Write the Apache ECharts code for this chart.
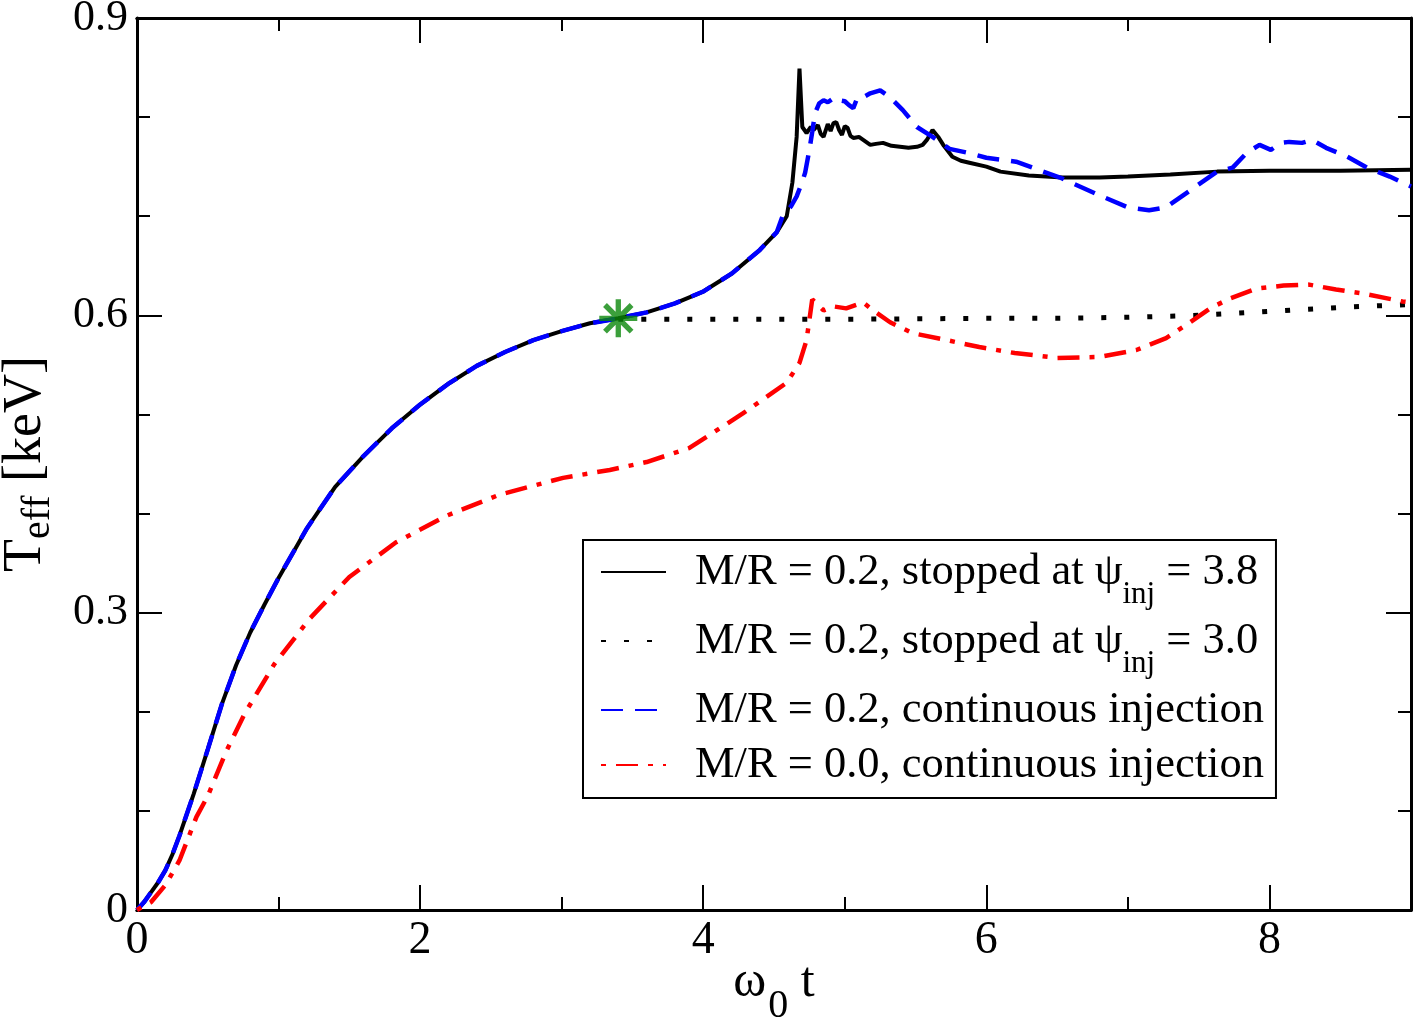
<!DOCTYPE html>
<html>
<head>
<meta charset="utf-8">
<script src="https://cdn.jsdelivr.net/npm/echarts@6/dist/echarts.min.js"></script>
<style>
html,body{margin:0;padding:0;background:#fff}
#main{width:1419px;height:1021px}
</style>
</head>
<body>
<div id="main"></div>
<script>
// rise shared by both M/R = 0.2 runs
var tCommon = [0, 0.05, 0.1, 0.15, 0.2, 0.25, 0.3, 0.4, 0.5, 0.6, 0.7, 0.8, 0.9, 1.0, 1.1, 1.2, 1.4, 1.6, 1.8, 2.0, 2.2, 2.4, 2.6, 2.8, 3.0, 3.2, 3.4, 3.6, 3.8, 4.0, 4.2, 4.4, 4.52];
var vCommon = [0, 0.008, 0.018, 0.028, 0.04, 0.056, 0.075, 0.117, 0.162, 0.208, 0.247, 0.28, 0.308, 0.335, 0.36, 0.385, 0.427, 0.458, 0.486, 0.51, 0.531, 0.549, 0.563, 0.575, 0.584, 0.592, 0.597, 0.603, 0.612, 0.624, 0.642, 0.666, 0.684];

// stopped at psi_inj = 3.8 (after the shared part)
var tStop38 = [4.59, 4.63, 4.66, 4.68, 4.70, 4.73, 4.76, 4.78, 4.81, 4.83, 4.85, 4.88, 4.90, 4.92, 4.94, 4.96, 4.98, 5.00, 5.02, 5.04, 5.06, 5.10, 5.13, 5.18, 5.22, 5.27, 5.33, 5.39, 5.45, 5.51, 5.55, 5.58, 5.62, 5.66, 5.70, 5.76, 5.82, 5.88, 6.0, 6.1, 6.3, 6.54, 6.8, 7.0, 7.3, 7.63, 8.0, 8.5, 9.0];
var vStop38 = [0.70, 0.734, 0.78, 0.849, 0.79, 0.784, 0.79, 0.787, 0.792, 0.783, 0.78, 0.793, 0.786, 0.794, 0.795, 0.787, 0.782, 0.791, 0.789, 0.781, 0.779, 0.78, 0.777, 0.772, 0.773, 0.774, 0.771, 0.77, 0.769, 0.77, 0.772, 0.777, 0.787, 0.78, 0.771, 0.76, 0.756, 0.754, 0.75, 0.745, 0.741, 0.739, 0.739, 0.740, 0.742, 0.745, 0.746, 0.746, 0.747];

// stopped at psi_inj = 3.0
var tStop30 = [3.4, 4.0, 5.0, 6.0, 6.5, 7.0, 7.5, 8.0, 8.5, 9.0];
var vStop30 = [0.596, 0.596, 0.596, 0.597, 0.597, 0.598, 0.600, 0.604, 0.608, 0.611];

// M/R = 0.2 continuous (after the shared part)
var tCont02 = [4.56, 4.62, 4.66, 4.70, 4.72, 4.75, 4.77, 4.79, 4.82, 4.85, 4.88, 4.91, 4.94, 4.96, 5.0, 5.03, 5.06, 5.09, 5.13, 5.18, 5.25, 5.32, 5.41, 5.51, 5.62, 5.74, 5.87, 6.0, 6.21, 6.52, 6.8, 7.0, 7.15, 7.27, 7.44, 7.63, 7.74, 7.84, 7.93, 8.01, 8.08, 8.14, 8.23, 8.3, 8.4, 8.55, 8.69, 8.85, 9.0];
var vCont02 = [0.70, 0.71, 0.72, 0.735, 0.744, 0.767, 0.785, 0.804, 0.814, 0.817, 0.815, 0.818, 0.815, 0.817, 0.816, 0.812, 0.809, 0.82, 0.82, 0.824, 0.827, 0.82, 0.807, 0.79, 0.78, 0.768, 0.764, 0.759, 0.755, 0.739, 0.721, 0.709, 0.706, 0.709, 0.726, 0.745, 0.749, 0.764, 0.772, 0.767, 0.774, 0.775, 0.774, 0.777, 0.769, 0.76, 0.749, 0.74, 0.73];

// M/R = 0.0 continuous
var tCont00 = [0, 0.1, 0.2, 0.3, 0.42, 0.5, 0.63, 0.76, 0.97, 1.22, 1.5, 1.83, 2.19, 2.56, 3.01, 3.34, 3.6, 3.9, 4.28, 4.59, 4.68, 4.73, 4.77, 4.85, 4.92, 5.01, 5.13, 5.2, 5.32, 5.48, 5.72, 5.95, 6.2, 6.5, 6.8, 7.06, 7.27, 7.44, 7.58, 7.72, 7.91, 8.1, 8.28, 8.47, 8.66, 8.94, 9.0];
var vCont00 = [0, 0.008, 0.025, 0.05, 0.094, 0.115, 0.16, 0.198, 0.248, 0.294, 0.336, 0.371, 0.398, 0.419, 0.436, 0.444, 0.452, 0.466, 0.501, 0.532, 0.552, 0.575, 0.616, 0.605, 0.609, 0.607, 0.613, 0.605, 0.593, 0.582, 0.575, 0.568, 0.562, 0.557, 0.558, 0.565, 0.577, 0.593, 0.607, 0.617, 0.627, 0.63, 0.631, 0.626, 0.622, 0.614, 0.613];

// marker where the 3.0 run branches off
var tStar = [3.4];
var vStar = [0.597];

var names = [
    'M/R = 0.2, stopped at ψinj = 3.8',
    'M/R = 0.2, stopped at ψinj = 3.0',
    'M/R = 0.2, continuous injection',
    'M/R = 0.0, continuous injection'
];

function zip(t, v) {
    var out = [];
    for (var i = 0; i < t.length; i++) out.push([t[i], v[i]]);
    return out;
}

var FONT = "'Liberation Serif', 'Times New Roman', serif";
var starPath = 'path://M43 0L57 0L57 100L43 100Z M0 43L100 43L100 57L0 57Z M10 20L20 10L90 80L80 90Z M80 10L90 20L20 90L10 80Z';

function xAx(pos, interval, len, labels) {
    return {
        type: 'value', min: 0, max: 9, interval: interval, position: pos,
        nameMoveOverlap: false,
        axisLine: { show: true, onZero: false, lineStyle: { color: '#000', width: 3 } },
        axisTick: { show: true, inside: true, length: len, lineStyle: { color: '#000', width: 2 } },
        axisLabel: {
            show: labels, color: '#000', fontFamily: FONT, fontSize: 46, margin: 8,
            showMaxLabel: false
        },
        splitLine: { show: false }
    };
}
function yAx(pos, labels) {
    return {
        type: 'value', min: 0, max: 0.9, interval: 0.3, position: pos,
        nameMoveOverlap: false,
        axisLine: { show: true, onZero: false, lineStyle: { color: '#000', width: 3 } },
        axisTick: { show: true, inside: true, length: 25, lineStyle: { color: '#000', width: 2 } },
        minorTick: { show: true, splitNumber: 3, length: 13, lineStyle: { color: '#000', width: 2 } },
        axisLabel: { show: labels, color: '#000', fontFamily: FONT, fontSize: 44, margin: 9 },
        splitLine: { show: false }
    };
}

var xMain = xAx('bottom', 2, 25, true);
xMain.name = '{n|ω}{s|0}{n| t}';
xMain.nameLocation = 'middle';
xMain.nameGap = 48;
xMain.nameTextStyle = {
    color: '#000', fontFamily: FONT, fontSize: 50, lineHeight: 50,
    rich: {
        n: { fontFamily: FONT, fontSize: 50, color: '#000', lineHeight: 50 },
        s: { fontFamily: FONT, fontSize: 40, color: '#000', lineHeight: 50, verticalAlign: 'top', padding: [28, 0, 0, 2] }
    }
};
var yMain = yAx('left', true);
yMain.name = '{n|T}{s|eff}{n| [keV]}';
yMain.nameLocation = 'middle';
yMain.nameGap = 84;
yMain.nameRotate = 90;
yMain.nameTextStyle = {
    color: '#000', fontFamily: FONT, fontSize: 54, lineHeight: 54,
    rich: {
        n: { fontFamily: FONT, fontSize: 54, color: '#000', lineHeight: 54 },
        s: { fontFamily: FONT, fontSize: 40, color: '#000', lineHeight: 54, padding: [24, 0, 0, 0] }
    }
};

var myChart = echarts.init(document.getElementById('main'));
var option = {
    backgroundColor: '#fff',
    animation: false,
    grid: { left: 137, right: 8, top: 18, bottom: 111, containLabel: false, outerBoundsMode: 'none' },
    legend: {
        data: names,
        orient: 'vertical',
        left: 583,
        top: 540,
        padding: [8, 12, 9, 17],
        itemWidth: 65,
        itemHeight: 20,
        itemGap: 7,
        borderColor: '#000',
        borderWidth: 2,
        borderRadius: 0,
        backgroundColor: '#fff',
        itemStyle: { opacity: 0 },
        formatter: function (name) {
            var k = name.indexOf('ψinj');
            if (k < 0) return '{n|' + name + '}';
            return '{n|' + name.slice(0, k + 1) + '}{s|inj}{n|' + name.slice(k + 4) + '}';
        },
        textStyle: {
            color: '#000', fontFamily: FONT, fontSize: 44.5, lineHeight: 48,
            padding: [0, 0, 0, 24],
            rich: {
                n: { fontFamily: FONT, fontSize: 44.5, color: '#000', lineHeight: 48 },
                s: { fontFamily: FONT, fontSize: 31, color: '#000', lineHeight: 48, verticalAlign: 'top', padding: [31, 0, 0, 0] }
            }
        }
    },
    xAxis: [xMain, xAx('bottom', 1, 13, false), xAx('top', 2, 25, false), xAx('top', 1, 13, false)],
    yAxis: [yMain, yAx('right', false)],
    series: [
        {
            name: names[0], type: 'line', symbol: 'none', z: 3,
            data: zip(tCommon.concat(tStop38), vCommon.concat(vStop38)),
            lineStyle: { color: '#000', width: 4, type: 'solid' },
            itemStyle: { color: '#000' }
        },
        {
            name: names[1], type: 'line', symbol: 'none', z: 3,
            data: zip(tStop30, vStop30),
            lineStyle: { color: '#000', width: 5, type: [5, 18] },
            itemStyle: { color: '#000' }
        },
        {
            name: names[2], type: 'line', symbol: 'none', z: 4,
            data: zip(tCommon.concat(tCont02), vCommon.concat(vCont02)),
            lineStyle: { color: '#0000ff', width: 4.5, type: [22, 12] },
            itemStyle: { color: '#0000ff' }
        },
        {
            name: names[3], type: 'line', symbol: 'none', z: 4,
            data: zip(tCont00, vCont00),
            lineStyle: { color: '#ff0000', width: 4.5, type: [5, 10, 22, 10] },
            itemStyle: { color: '#ff0000' }
        },
        {
            name: 'branch', type: 'scatter', z: 6,
            data: zip(tStar, vStar),
            symbol: starPath, symbolSize: 38,
            itemStyle: { color: '#0a870a' }
        }
    ]
};
myChart.setOption(option);
</script>
</body>
</html>
